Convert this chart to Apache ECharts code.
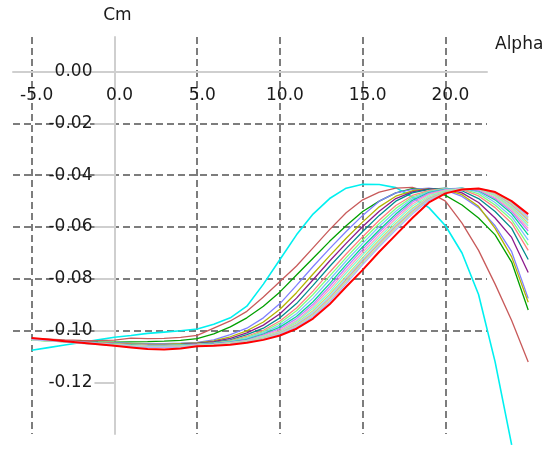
<!DOCTYPE html>
<html>
<head>
<meta charset="utf-8">
<script src="https://cdn.jsdelivr.net/npm/echarts@6/dist/echarts.min.js"></script>
<style>
  html, body { margin: 0; padding: 0; background: #fff; }
  #chart { width: 548px; height: 450px; }
</style>
</head>
<body>
<div id="chart"></div>
<script>
// angle of attack, one value per sample
const alpha = [-5, -4, -3, -2, -1, 0, 1, 2, 3, 4, 5, 6, 7, 8, 9, 10, 11, 12, 13, 14, 15, 16, 17, 18, 19, 20, 21, 22, 23, 24, 25]

// Cm curves
const cm01 = [-0.1075, -0.1065, -0.1055, -0.1045, -0.1035, -0.1025, -0.1018, -0.1010, -0.1005, -0.1000, -0.0993, -0.0975, -0.0950, -0.0905, -0.0820, -0.0725, -0.0630, -0.0550, -0.0490, -0.0450, -0.0435, -0.0436, -0.0448, -0.0485, -0.0525, -0.0595, -0.0700, -0.0860, -0.1120, -0.1440, null]
const cm02 = [-0.1030, -0.1032, -0.1035, -0.1037, -0.1038, -0.1036, -0.1028, -0.1030, -0.1029, -0.1025, -0.1018, -0.0990, -0.0962, -0.0925, -0.0870, -0.0810, -0.0750, -0.0680, -0.0610, -0.0545, -0.0495, -0.0465, -0.0450, -0.0447, -0.0465, -0.0500, -0.0585, -0.0690, -0.0820, -0.0960, -0.1120]
const cm03 = [-0.1036, -0.1038, -0.1040, -0.1041, -0.1043, -0.1044, -0.1043, -0.1042, -0.1040, -0.1037, -0.1030, -0.1012, -0.0985, -0.0950, -0.0905, -0.0850, -0.0785, -0.0720, -0.0655, -0.0595, -0.0540, -0.0500, -0.0468, -0.0452, -0.0455, -0.0478, -0.0515, -0.0565, -0.0630, -0.0735, -0.0920]
const cm04 = [-0.1034, -0.1037, -0.1040, -0.1042, -0.1045, -0.1047, -0.1049, -0.1050, -0.1050, -0.1048, -0.1045, -0.1035, -0.1015, -0.0990, -0.0950, -0.0895, -0.0825, -0.0752, -0.0683, -0.0617, -0.0555, -0.0500, -0.0468, -0.0455, -0.0450, -0.0458, -0.0482, -0.0525, -0.0595, -0.0695, -0.0875]
const cm05 = [-0.1035, -0.1038, -0.1041, -0.1044, -0.1046, -0.1049, -0.1051, -0.1052, -0.1052, -0.1050, -0.1047, -0.1039, -0.1023, -0.1000, -0.0966, -0.0917, -0.0853, -0.0781, -0.0711, -0.0643, -0.0580, -0.0522, -0.0481, -0.0460, -0.0452, -0.0455, -0.0475, -0.0520, -0.0605, -0.0715, -0.0890]
const cm06 = [-0.1033, -0.1036, -0.1040, -0.1043, -0.1047, -0.1050, -0.1053, -0.1055, -0.1054, -0.1052, -0.1049, -0.1042, -0.1029, -0.1008, -0.0978, -0.0934, -0.0874, -0.0803, -0.0731, -0.0663, -0.0598, -0.0539, -0.0490, -0.0464, -0.0453, -0.0452, -0.0468, -0.0505, -0.0565, -0.0640, -0.0775]
const cm07 = [-0.1035, -0.1038, -0.1041, -0.1045, -0.1048, -0.1051, -0.1053, -0.1055, -0.1055, -0.1053, -0.1050, -0.1045, -0.1035, -0.1015, -0.0990, -0.0950, -0.0895, -0.0825, -0.0752, -0.0683, -0.0617, -0.0555, -0.0500, -0.0468, -0.0455, -0.0450, -0.0460, -0.0490, -0.0540, -0.0605, -0.0725]
const cm08 = [-0.1032, -0.1035, -0.1039, -0.1043, -0.1046, -0.1049, -0.1052, -0.1054, -0.1055, -0.1054, -0.1051, -0.1047, -0.1038, -0.1021, -0.0998, -0.0962, -0.0912, -0.0847, -0.0774, -0.0704, -0.0637, -0.0574, -0.0517, -0.0478, -0.0459, -0.0451, -0.0455, -0.0480, -0.0525, -0.0585, -0.0690]
const cm09 = [-0.1036, -0.1039, -0.1042, -0.1045, -0.1048, -0.1051, -0.1054, -0.1056, -0.1056, -0.1054, -0.1052, -0.1048, -0.1040, -0.1025, -0.1003, -0.0970, -0.0923, -0.0860, -0.0789, -0.0718, -0.0650, -0.0586, -0.0528, -0.0484, -0.0462, -0.0452, -0.0452, -0.0472, -0.0515, -0.0572, -0.0670]
const cm10 = [-0.1034, -0.1037, -0.1041, -0.1044, -0.1048, -0.1052, -0.1055, -0.1057, -0.1057, -0.1055, -0.1053, -0.1049, -0.1042, -0.1029, -0.1008, -0.0978, -0.0934, -0.0874, -0.0803, -0.0731, -0.0663, -0.0598, -0.0539, -0.0490, -0.0464, -0.0453, -0.0450, -0.0465, -0.0505, -0.0560, -0.0650]
const cm11 = [-0.1035, -0.1038, -0.1042, -0.1046, -0.1049, -0.1052, -0.1055, -0.1058, -0.1058, -0.1056, -0.1054, -0.1050, -0.1044, -0.1033, -0.1013, -0.0986, -0.0945, -0.0888, -0.0818, -0.0745, -0.0676, -0.0611, -0.0550, -0.0497, -0.0467, -0.0455, -0.0450, -0.0460, -0.0495, -0.0548, -0.0630]
const cm12 = [-0.1033, -0.1037, -0.1041, -0.1045, -0.1049, -0.1053, -0.1056, -0.1058, -0.1059, -0.1057, -0.1054, -0.1051, -0.1045, -0.1036, -0.1016, -0.0992, -0.0953, -0.0898, -0.0829, -0.0756, -0.0686, -0.0620, -0.0558, -0.0503, -0.0470, -0.0456, -0.0451, -0.0458, -0.0490, -0.0540, -0.0615]
const cm13 = [-0.1034, -0.1038, -0.1042, -0.1046, -0.1050, -0.1053, -0.1057, -0.1059, -0.1060, -0.1058, -0.1055, -0.1052, -0.1046, -0.1039, -0.1019, -0.0998, -0.0961, -0.0906, -0.0840, -0.0767, -0.0697, -0.0630, -0.0567, -0.0511, -0.0474, -0.0458, -0.0452, -0.0455, -0.0485, -0.0533, -0.0605]
const cm14 = [-0.1036, -0.1039, -0.1043, -0.1047, -0.1050, -0.1054, -0.1057, -0.1060, -0.1060, -0.1059, -0.1056, -0.1053, -0.1047, -0.1039, -0.1022, -0.1004, -0.0964, -0.0914, -0.0851, -0.0777, -0.0707, -0.0640, -0.0577, -0.0519, -0.0479, -0.0460, -0.0453, -0.0453, -0.0480, -0.0527, -0.0595]
const cm15 = [-0.1035, -0.1039, -0.1043, -0.1047, -0.1051, -0.1055, -0.1058, -0.1061, -0.1061, -0.1059, -0.1057, -0.1054, -0.1048, -0.1040, -0.1025, -0.1003, -0.0970, -0.0923, -0.0860, -0.0789, -0.0718, -0.0650, -0.0586, -0.0528, -0.0484, -0.0462, -0.0454, -0.0452, -0.0476, -0.0522, -0.0585]
const cm16 = [-0.1034, -0.1038, -0.1042, -0.1046, -0.1050, -0.1054, -0.1058, -0.1061, -0.1062, -0.1060, -0.1057, -0.1055, -0.1049, -0.1041, -0.1027, -0.1005, -0.0974, -0.0928, -0.0867, -0.0796, -0.0724, -0.0657, -0.0592, -0.0533, -0.0487, -0.0464, -0.0455, -0.0452, -0.0473, -0.0518, -0.0578]
const cm17 = [-0.1033, -0.1037, -0.1042, -0.1047, -0.1051, -0.1055, -0.1059, -0.1062, -0.1063, -0.1061, -0.1058, -0.1055, -0.1050, -0.1042, -0.1029, -0.1008, -0.0978, -0.0934, -0.0874, -0.0803, -0.0731, -0.0663, -0.0598, -0.0539, -0.0490, -0.0465, -0.0456, -0.0452, -0.0470, -0.0513, -0.0572]
const cm18 = [-0.1035, -0.1039, -0.1043, -0.1048, -0.1052, -0.1056, -0.1060, -0.1063, -0.1064, -0.1062, -0.1058, -0.1056, -0.1051, -0.1043, -0.1031, -0.1010, -0.0982, -0.0939, -0.0881, -0.0810, -0.0738, -0.0670, -0.0605, -0.0544, -0.0494, -0.0467, -0.0456, -0.0452, -0.0467, -0.0508, -0.0566]
const cm19 = [-0.1034, -0.1038, -0.1043, -0.1048, -0.1052, -0.1057, -0.1061, -0.1064, -0.1065, -0.1063, -0.1059, -0.1057, -0.1052, -0.1044, -0.1033, -0.1013, -0.0986, -0.0945, -0.0888, -0.0818, -0.0745, -0.0676, -0.0611, -0.0550, -0.0497, -0.0469, -0.0457, -0.0452, -0.0464, -0.0503, -0.0560]
const cm20 = [-0.1028, -0.1034, -0.1040, -0.1046, -0.1052, -0.1058, -0.1064, -0.1070, -0.1072, -0.1068, -0.1060, -0.1058, -0.1054, -0.1046, -0.1035, -0.1018, -0.0992, -0.0953, -0.0898, -0.0830, -0.0765, -0.0695, -0.0630, -0.0565, -0.0505, -0.0470, -0.0455, -0.0451, -0.0465, -0.0500, -0.0550]

const xTicks = [-5, 0, 5, 10, 15, 20]
const yTicks = [0, -0.02, -0.04, -0.06, -0.08, -0.10, -0.12]

const curves = [cm01, cm02, cm03, cm04, cm05, cm06, cm07, cm08, cm09, cm10,
  cm11, cm12, cm13, cm14, cm15, cm16, cm17, cm18, cm19, cm20]
const colors = ['#00f0f0', '#c85a5a', '#00a000', '#7f7fff', '#b4b400', '#8c1a8c', '#008c8c',
  '#ff7f7f', '#7fff7f', '#7fbfff', '#00d890', '#c07fff', '#ffa0c0', '#7fffd0', '#d8d870',
  '#90e8ff', '#e0a0a0', '#b8f0a0', '#b0b0ff', '#ff0000']

const font = 'DejaVu Sans'
const gridLine = { type: [7, 4], color: '#7d7d7d', width: 2 }

// plot frame in pixels and axis ranges
const box = { left: 13, top: 37, width: 474, height: 397 }
const xMin = -6.13
const xMax = 22.51
const yMin = -0.1398
const yMax = 0.0133
const pxPerX = box.width / (xMax - xMin)
// the curves run past the frame on the right, so they live in a wider grid with the same scale
const xMaxCurves = 25.6
const curvesWidth = (xMaxCurves - xMin) * pxPerX

const zeroFromTop = (yMax / (yMax - yMin)) * box.height
const zeroFromLeft = -xMin * pxPerX

const series = curves.map((vals, k) => ({
  type: 'line',
  xAxisIndex: 1,
  yAxisIndex: 1,
  data: alpha.map((a, i) => [a, vals[i]]).filter((p) => p[1] !== null),
  showSymbol: false,
  symbol: 'none',
  clip: false,
  lineStyle: { color: colors[k], width: k === 19 ? 2 : k === 0 ? 1.6 : 1.3 },
  z: 3,
}))

const myChart = echarts.init(document.getElementById('chart'))

myChart.setOption({
  animation: false,
  backgroundColor: '#fff',
  title: {
    text: 'Alpha',
    left: 495,
    top: 36,
    padding: 0,
    textStyle: { fontFamily: font, fontSize: 17, fontWeight: 'normal', color: '#1a1a1a' },
  },
  grid: [
    { left: box.left, top: box.top, width: box.width, height: box.height, containLabel: false, outerBoundsMode: 'none' },
    { left: box.left, top: box.top, width: curvesWidth, height: box.height, containLabel: false, outerBoundsMode: 'none' },
  ],
  xAxis: [
    {
      type: 'value',
      gridIndex: 0,
      min: xMin,
      max: xMax,
      minInterval: 5,
      maxInterval: 5,
      position: 'bottom',
      offset: -(box.height - zeroFromTop),
      axisLine: { onZero: false, lineStyle: { color: '#cfcfcf', width: 2 } },
      axisTick: { show: false },
      axisLabel: {
        customValues: xTicks,
        formatter: (v) => v.toFixed(1),
        fontFamily: font,
        fontSize: 17,
        color: '#1a1a1a',
        margin: 16,
        padding: [0, 0, 0, 10],
      },
      splitLine: { show: true, showMinLine: false, showMaxLine: false, lineStyle: gridLine },
    },
    {
      type: 'value',
      gridIndex: 1,
      min: xMin,
      max: xMaxCurves,
      show: false,
    },
  ],
  yAxis: [
    {
      type: 'value',
      gridIndex: 0,
      min: yMin,
      max: yMax,
      minInterval: 0.02,
      maxInterval: 0.02,
      position: 'left',
      offset: -zeroFromLeft,
      name: 'Cm',
      nameLocation: 'end',
      nameGap: 13,
      nameTextStyle: { fontFamily: font, fontSize: 17, color: '#1a1a1a', align: 'center', padding: [0, 0, 0, 6] },
      axisLine: { onZero: false, lineStyle: { color: '#cfcfcf', width: 2 } },
      axisTick: { show: true, customValues: yTicks, length: 20, lineStyle: { color: '#cfcfcf', width: 2 } },
      axisLabel: {
        customValues: yTicks,
        formatter: (v) => v.toFixed(2),
        fontFamily: font,
        fontSize: 17,
        color: '#1a1a1a',
        margin: 22,
      },
      splitLine: { show: true, showMinLine: false, showMaxLine: false, lineStyle: gridLine },
    },
    {
      type: 'value',
      gridIndex: 1,
      min: yMin,
      max: yMax,
      show: false,
    },
  ],
  series: series,
})

window.addEventListener('resize', () => {
  myChart.resize()
})
</script>
</body>
</html>
